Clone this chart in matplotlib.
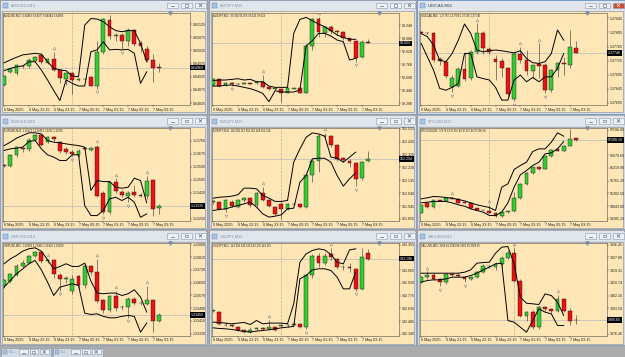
import matplotlib
matplotlib.use("Agg")
import matplotlib.pyplot as plt
import matplotlib.transforms as mtransforms
from matplotlib.patches import Rectangle
import numpy as np

plt.rcParams["font.family"] = ["Liberation Sans", "DejaVu Sans"]

# ---- data (M15 candles, open/high/low/close) ----
fx_time_labels = ["6 May 2025", "6 May 22:15", "6 May 23:15", "7 May 00:15",
                  "7 May 01:15", "7 May 02:15", "7 May 03:15"]
xau_time_labels = ["6 May 2025", "6 May 21:15", "6 May 22:15", "6 May 23:15",
                   "7 May 01:15", "7 May 02:15", "7 May 03:15"]
time_idx = [0, 4, 8, 12, 16, 20, 24]

audusd_ohlc = [
    (0.64895, 0.64932, 0.64890, 0.64928), (0.64945, 0.64960, 0.64940, 0.64955),
    (0.64938, 0.64975, 0.64930, 0.64968), (0.64966, 0.64970, 0.64960, 0.64964),
    (0.64966, 0.64995, 0.64960, 0.64989), (0.64985, 0.65005, 0.64980, 0.65000),
    (0.65009, 0.65015, 0.64975, 0.64980), (0.64978, 0.64995, 0.64975, 0.64992),
    (0.64992, 0.65020, 0.64948, 0.64951), (0.64951, 0.64955, 0.64900, 0.64920),
    (0.64918, 0.64945, 0.64895, 0.64938), (0.64938, 0.64945, 0.64860, 0.64912),
    (0.64912, 0.64920, 0.64910, 0.64917), (0.64918, 0.64920, 0.64912, 0.64915),
    (0.64925, 0.64928, 0.64890, 0.64891), (0.64891, 0.65060, 0.64880, 0.65020),
    (0.65020, 0.65148, 0.65010, 0.65143), (0.65140, 0.65160, 0.65070, 0.65078),
    (0.65078, 0.65090, 0.65060, 0.65082), (0.65085, 0.65090, 0.65030, 0.65062),
    (0.65062, 0.65110, 0.65040, 0.65103), (0.65103, 0.65108, 0.65040, 0.65050),
    (0.65052, 0.65060, 0.65020, 0.65040), (0.65030, 0.65040, 0.64980, 0.64990),
    (0.64990, 0.65010, 0.64905, 0.64960), (0.64963, 0.64977, 0.64944, 0.64960),
]
audusd_upper = [0.64978, 0.64989, 0.64999, 0.65008, 0.65011, 0.65014, 0.65011, 0.64982,
                0.64957, 0.64951, 0.64948, 0.64928, 0.64925, 0.65121, 0.65146, 0.65144,
                0.65134, 0.65115, 0.65100, 0.65096, 0.65100, 0.65100, 0.65052, 0.64982]
audusd_lower = [0.64948, 0.64957, 0.64963, 0.64966, 0.64982, 0.64982, 0.64951, 0.64913,
                0.64873, 0.64835, 0.64913, 0.64900, 0.64890, 0.64890, 0.65020, 0.65027,
                0.65058, 0.65027, 0.65029, 0.65027, 0.65029, 0.65014, 0.64900, 0.64944]
audusd_ticks = [0.64825, 0.64875, 0.64925, 0.64975, 0.65025, 0.65075, 0.65125]
audusd_range = (0.64818, 0.65168)
audusd_frac_up = [8, 17]
audusd_frac_dn = [15, 19]

audjpy_ohlc = [
    (92.514, 92.600, 92.500, 92.583), (92.583, 92.590, 92.495, 92.503),
    (92.514, 92.550, 92.500, 92.542), (92.540, 92.555, 92.505, 92.526),
    (92.522, 92.540, 92.510, 92.526), (92.530, 92.550, 92.520, 92.535),
    (92.538, 92.550, 92.520, 92.532), (92.534, 92.565, 92.525, 92.554),
    (92.554, 92.640, 92.480, 92.485), (92.490, 92.495, 92.450, 92.460),
    (92.467, 92.480, 92.455, 92.473), (92.460, 92.470, 92.300, 92.420),
    (92.420, 92.480, 92.415, 92.473), (92.470, 92.480, 92.460, 92.473),
    (92.473, 92.478, 92.415, 92.420), (92.420, 93.010, 92.410, 92.990),
    (92.990, 93.340, 92.940, 93.317), (93.317, 93.350, 93.100, 93.167),
    (93.154, 93.240, 93.100, 93.228), (93.228, 93.250, 93.140, 93.180),
    (93.180, 93.190, 93.120, 93.165), (93.167, 93.180, 93.060, 93.085),
    (93.085, 93.095, 93.040, 93.058), (93.056, 93.060, 92.800, 92.840),
    (92.852, 93.064, 92.840, 93.044), (93.038, 93.076, 93.023, 93.023),
]
audjpy_upper = [92.567, 92.575, 92.575, 92.583, 92.591, 92.575, 92.583, 92.554,
                92.554, 92.501, 92.485, 92.485, 92.485, 93.146, 93.317, 93.342,
                93.301, 93.260, 93.228, 93.179, 93.126, 93.097, 93.073, 93.073]
audjpy_lower = [92.501, 92.501, 92.510, 92.514, 92.501, 92.485, 92.469, 92.444,
                92.412, 92.310, 92.444, 92.428, 92.428, 92.428, 92.452, 92.991,
                93.056, 93.146, 93.146, 93.113, 93.064, 93.044, 92.820, 92.840]
audjpy_ticks = [92.288, 92.448, 92.608, 92.768, 92.928, 93.088, 93.248]
audjpy_range = (92.269, 93.399)
audjpy_frac_up = [8, 17]
audjpy_frac_dn = [3, 23]

usdcad_ohlc = [
    (1.37805, 1.37808, 1.37800, 1.37803), (1.37804, 1.37806, 1.37800, 1.37802),
    (1.37802, 1.37805, 1.37722, 1.37726), (1.37729, 1.37736, 1.37712, 1.37724),
    (1.37722, 1.37726, 1.37675, 1.37681), (1.37651, 1.37684, 1.37636, 1.37677),
    (1.37653, 1.37708, 1.37649, 1.37700), (1.37700, 1.37750, 1.37666, 1.37672),
    (1.37677, 1.37755, 1.37670, 1.37750), (1.37750, 1.37831, 1.37745, 1.37802),
    (1.37804, 1.37808, 1.37745, 1.37762), (1.37757, 1.37764, 1.37745, 1.37750),
    (1.37729, 1.37741, 1.37670, 1.37722), (1.37724, 1.37731, 1.37679, 1.37703),
    (1.37703, 1.37708, 1.37622, 1.37629), (1.37615, 1.37750, 1.37610, 1.37745),
    (1.37745, 1.37764, 1.37717, 1.37728), (1.37728, 1.37755, 1.37684, 1.37695),
    (1.37695, 1.37712, 1.37675, 1.37712), (1.37714, 1.37774, 1.37675, 1.37710),
    (1.37712, 1.37717, 1.37632, 1.37641), (1.37641, 1.37700, 1.37636, 1.37698),
    (1.37698, 1.37722, 1.37679, 1.37717), (1.37719, 1.37736, 1.37684, 1.37715),
    (1.37712, 1.37812, 1.37703, 1.37764), (1.37760, 1.37780, 1.37746, 1.37746),
]
usdcad_upper = [1.37802, 1.37793, 1.37769, 1.37726, 1.37722, 1.37745, 1.37783, 1.37829,
                1.37802, 1.37755, 1.37750, 1.37753, 1.37755, 1.37753, 1.37750, 1.37747,
                1.37753, 1.37731, 1.37719, 1.37717, 1.37722, 1.37745, 1.37812, 1.37783]
usdcad_lower = [1.37774, 1.37736, 1.37698, 1.37646, 1.37641, 1.37649, 1.37660, 1.37745,
                1.37745, 1.37679, 1.37674, 1.37670, 1.37649, 1.37613, 1.37613, 1.37670,
                1.37684, 1.37665, 1.37677, 1.37665, 1.37679, 1.37679, 1.37703, 1.37745]
usdcad_ticks = [1.37605, 1.37645, 1.37685, 1.37725, 1.37765, 1.37805, 1.37845]
usdcad_range = (1.37599, 1.37861)
usdcad_frac_up = [9, 16, 19]
usdcad_frac_dn = [5, 15, 20]

eurusd_ohlc = [
    (1.13597, 1.13605, 1.13590, 1.13595), (1.13597, 1.13675, 1.13590, 1.13667),
    (1.13667, 1.13725, 1.13650, 1.13717), (1.13708, 1.13717, 1.13688, 1.13706),
    (1.13706, 1.13775, 1.13695, 1.13766), (1.13766, 1.13805, 1.13760, 1.13797),
    (1.13797, 1.13805, 1.13725, 1.13732), (1.13753, 1.13790, 1.13745, 1.13782),
    (1.13782, 1.13790, 1.13760, 1.13771), (1.13749, 1.13760, 1.13680, 1.13695),
    (1.13706, 1.13715, 1.13670, 1.13688), (1.13688, 1.13700, 1.13660, 1.13671),
    (1.13667, 1.13705, 1.13650, 1.13695), (1.13710, 1.13715, 1.13700, 1.13706),
    (1.13699, 1.13715, 1.13695, 1.13710), (1.13717, 1.13730, 1.13390, 1.13402),
    (1.13420, 1.13430, 1.13280, 1.13294), (1.13294, 1.13500, 1.13280, 1.13493),
    (1.13489, 1.13515, 1.13420, 1.13435), (1.13428, 1.13440, 1.13390, 1.13407),
    (1.13402, 1.13430, 1.13360, 1.13420), (1.13424, 1.13470, 1.13395, 1.13407),
    (1.13404, 1.13420, 1.13390, 1.13402), (1.13402, 1.13530, 1.13380, 1.13500),
    (1.13506, 1.13510, 1.13270, 1.13316), (1.13322, 1.13346, 1.13282, 1.13335),
]
eurusd_upper = [1.13727, 1.13749, 1.13775, 1.13793, 1.13810, 1.13810, 1.13803, 1.13760,
                1.13749, 1.13745, 1.13738, 1.13732, 1.13727, 1.13717, 1.13435, 1.13500,
                1.13493, 1.13493, 1.13456, 1.13450, 1.13456, 1.13515, 1.13500, 1.13355]
eurusd_lower = [1.13695, 1.13706, 1.13710, 1.13717, 1.13753, 1.13760, 1.13706, 1.13667,
                1.13652, 1.13630, 1.13630, 1.13667, 1.13667, 1.13337, 1.13272, 1.13272,
                1.13305, 1.13381, 1.13391, 1.13370, 1.13391, 1.13359, 1.13261, 1.13283]
eurusd_ticks = [1.13250, 1.13335, 1.13420, 1.13505, 1.13590, 1.13675, 1.13760]
eurusd_range = (1.13240, 1.13840)
eurusd_frac_up = [15, 18, 23]
eurusd_frac_dn = [11, 16, 20]

eurjpy_ohlc = [
    (161.974, 161.990, 161.960, 161.980), (161.978, 161.985, 161.915, 161.924),
    (161.924, 161.995, 161.900, 161.986), (161.978, 161.990, 161.935, 161.944),
    (161.939, 161.998, 161.930, 161.986), (161.986, 162.010, 161.975, 162.003),
    (162.003, 162.010, 161.940, 161.949), (161.949, 162.050, 161.940, 162.042),
    (162.042, 162.085, 161.985, 161.993), (161.986, 161.995, 161.935, 161.944),
    (161.937, 161.945, 161.880, 161.888), (161.961, 161.975, 161.851, 161.924),
    (161.924, 161.970, 161.915, 161.961), (161.958, 161.970, 161.950, 161.961),
    (161.961, 161.965, 161.930, 161.937), (161.937, 162.190, 161.930, 162.175),
    (162.175, 162.295, 162.121, 162.281), (162.281, 162.480, 162.200, 162.466),
    (162.460, 162.488, 162.440, 162.466), (162.466, 162.470, 162.380, 162.397),
    (162.397, 162.400, 162.280, 162.294), (162.298, 162.305, 162.270, 162.286),
    (162.281, 162.290, 162.230, 162.262), (162.262, 162.270, 162.090, 162.146),
    (162.150, 162.280, 162.140, 162.269), (162.281, 162.352, 162.268, 162.294),
]
eurjpy_upper = [162.003, 162.010, 162.013, 162.018, 162.028, 162.077, 162.077, 162.072,
                162.023, 162.003, 161.979, 161.979, 161.986, 162.269, 162.367, 162.453,
                162.485, 162.478, 162.461, 162.306, 162.298, 162.269, 162.306, 162.343]
eurjpy_lower = [161.912, 161.919, 161.924, 161.937, 161.949, 161.961, 161.974, 161.937,
                161.887, 161.863, 161.870, 161.880, 161.924, 161.929, 162.121, 162.170,
                162.294, 162.298, 162.298, 162.269, 162.170, 162.092, 162.146, 162.190]
eurjpy_ticks = [161.850, 161.945, 162.040, 162.135, 162.230, 162.325, 162.420, 162.515]
eurjpy_range = (161.838, 162.520)
eurjpy_frac_up = [8, 18]
eurjpy_frac_dn = [2, 11, 23]

btcusd_ohlc = [
    (94602, 94900, 94580, 94889), (94961, 94970, 94790, 94805),
    (94805, 95060, 94790, 95045), (95045, 95060, 95020, 95040),
    (95040, 95140, 95020, 95130), (95120, 95180, 95090, 95110),
    (95105, 95120, 94940, 94961), (94985, 94990, 94940, 94961),
    (94961, 94970, 94750, 94769), (94769, 94790, 94690, 94710),
    (94710, 94720, 94670, 94690), (94650, 94900, 94590, 94600),
    (94602, 94620, 94460, 94480), (94480, 94640, 94460, 94626),
    (94626, 94660, 94610, 94650), (94650, 95350, 94640, 95130),
    (95130, 95660, 95110, 95644), (95644, 96060, 95620, 96039),
    (96039, 96260, 96000, 96243), (96243, 96260, 96150, 96183),
    (96183, 96660, 96160, 96638), (96638, 96900, 96600, 96878),
    (96901, 96920, 96820, 96841), (96841, 97040, 96820, 97021),
    (97021, 97600, 97000, 97261), (97278.69, 97302.40, 97200.88, 97208.10),
]
btcusd_upper = [95105, 95141, 95189, 95177, 95153, 95129, 95081, 95033,
                94961, 94889, 94841, 94793, 94686, 95524, 95644, 96159,
                96303, 96422, 96806, 96901, 96901, 97141, 97476, 97356]
btcusd_lower = [94961, 94985, 95009, 95009, 95009, 94961, 94889, 94841,
                94745, 94686, 94626, 94506, 94506, 94626, 94961, 95524,
                95967, 96123, 96303, 96422, 96722, 96758, 96901, 97165]
btcusd_ticks = [94385.10, 94843.80, 95302.50, 95761.20, 96219.90, 96678.60, 97137.30, 97596.00]
btcusd_range = (94326, 97644)
btcusd_frac_up = [5, 11]
btcusd_frac_dn = []

gbpusd_ohlc = [
    (1.33633, 1.33675, 1.33620, 1.33668), (1.33664, 1.33710, 1.33650, 1.33702),
    (1.33696, 1.33765, 1.33690, 1.33758), (1.33758, 1.33790, 1.33740, 1.33773),
    (1.33773, 1.33825, 1.33765, 1.33815), (1.33815, 1.33850, 1.33810, 1.33842),
    (1.33842, 1.33850, 1.33775, 1.33786), (1.33786, 1.33800, 1.33775, 1.33792),
    (1.33794, 1.33800, 1.33680, 1.33702), (1.33696, 1.33710, 1.33600, 1.33675),
    (1.33672, 1.33690, 1.33650, 1.33678), (1.33597, 1.33700, 1.33580, 1.33675),
    (1.33690, 1.33700, 1.33620, 1.33633), (1.33633, 1.33765, 1.33620, 1.33752),
    (1.33752, 1.33760, 1.33700, 1.33717), (1.33717, 1.33800, 1.33520, 1.33535),
    (1.33543, 1.33550, 1.33460, 1.33480), (1.33480, 1.33575, 1.33465, 1.33564),
    (1.33564, 1.33600, 1.33470, 1.33493), (1.33499, 1.33510, 1.33480, 1.33495),
    (1.33497, 1.33560, 1.33430, 1.33549), (1.33549, 1.33560, 1.33510, 1.33522),
    (1.33520, 1.33535, 1.33510, 1.33525), (1.33518, 1.33630, 1.33510, 1.33543),
    (1.33543, 1.33550, 1.33340, 1.33413), (1.33408, 1.33462, 1.33402, 1.33450),
]
gbpusd_upper = [1.33769, 1.33800, 1.33821, 1.33848, 1.33863, 1.33869, 1.33848, 1.33794,
                1.33737, 1.33752, 1.33769, 1.33752, 1.33752, 1.33773, 1.33660, 1.33585,
                1.33581, 1.33585, 1.33585, 1.33570, 1.33581, 1.33606, 1.33560, 1.33466]
gbpusd_lower = [1.33622, 1.33664, 1.33706, 1.33737, 1.33769, 1.33790, 1.33731, 1.33654,
                1.33570, 1.33622, 1.33633, 1.33643, 1.33633, 1.33459, 1.33451, 1.33455,
                1.33439, 1.33430, 1.33430, 1.33439, 1.33445, 1.33439, 1.33340, 1.33397]
gbpusd_ticks = [1.33330, 1.33410, 1.33490, 1.33570, 1.33650, 1.33730, 1.33810, 1.33890]
gbpusd_range = (1.33319, 1.33898)
gbpusd_frac_up = [7, 15, 18, 23]
gbpusd_frac_dn = [9, 20]

usdjpy_ohlc = [
    (142.600, 142.615, 142.590, 142.605), (142.586, 142.595, 142.445, 142.454),
    (142.446, 142.470, 142.425, 142.435), (142.440, 142.450, 142.420, 142.432),
    (142.416, 142.430, 142.370, 142.378), (142.378, 142.395, 142.350, 142.359),
    (142.359, 142.420, 142.350, 142.389), (142.390, 142.420, 142.380, 142.408),
    (142.408, 142.420, 142.380, 142.390), (142.397, 142.500, 142.385, 142.416),
    (142.416, 142.425, 142.375, 142.386), (142.432, 142.450, 142.420, 142.435),
    (142.435, 142.455, 142.420, 142.440), (142.445, 142.490, 142.440, 142.447),
    (142.454, 142.460, 142.410, 142.416), (142.416, 143.020, 142.390, 143.003),
    (143.003, 143.245, 142.980, 143.230), (143.230, 143.255, 143.100, 143.146),
    (143.146, 143.260, 143.120, 143.230), (143.242, 143.320, 143.180, 143.211),
    (143.192, 143.200, 143.080, 143.105), (143.105, 143.120, 143.070, 143.098),
    (143.105, 143.150, 143.040, 143.090), (143.079, 143.085, 142.830, 142.851),
    (142.851, 143.310, 142.840, 143.211), (143.259, 143.306, 143.178, 143.196),
]
usdjpy_upper = [142.473, 142.469, 142.462, 142.454, 142.462, 142.469, 142.446, 142.492,
                142.454, 142.462, 142.462, 142.462, 142.454, 142.681, 143.154, 143.249,
                143.287, 143.306, 143.294, 143.241, 143.154, 143.135, 143.294, 143.306]
usdjpy_lower = [142.408, 142.401, 142.397, 142.390, 142.378, 142.367, 142.359, 142.371,
                142.378, 142.386, 142.397, 142.408, 142.416, 142.424, 142.965, 143.003,
                143.067, 143.079, 143.079, 143.060, 142.984, 142.851, 142.851, 143.041]
usdjpy_ticks = [142.340, 142.485, 142.630, 142.775, 142.920, 143.065, 143.210, 143.355]
usdjpy_range = (142.321, 143.370)
usdjpy_frac_up = [9, 19]
usdjpy_frac_dn = [15, 23]

xauusd_ohlc = [
    (3411.15, 3415.50, 3410.50, 3414.51), (3414.51, 3418.50, 3413.00, 3416.30),
    (3416.30, 3417.00, 3412.50, 3413.39), (3413.39, 3414.00, 3408.50, 3411.15),
    (3411.15, 3417.50, 3410.00, 3416.75), (3416.75, 3417.50, 3415.50, 3416.30),
    (3416.30, 3417.00, 3414.50, 3415.63), (3414.95, 3415.50, 3411.00, 3413.39),
    (3413.39, 3415.50, 3412.50, 3414.95), (3414.95, 3418.50, 3414.00, 3417.87),
    (3417.87, 3423.50, 3417.00, 3422.34), (3422.34, 3423.00, 3421.00, 3421.70),
    (3421.22, 3424.50, 3419.50, 3423.46), (3423.46, 3429.00, 3421.50, 3427.49),
    (3427.49, 3433.00, 3426.50, 3430.62), (3430.62, 3434.00, 3411.50, 3412.27),
    (3412.27, 3413.00, 3387.50, 3388.76), (3388.31, 3392.00, 3385.00, 3391.00),
    (3391.00, 3392.50, 3380.00, 3380.92), (3380.92, 3395.00, 3379.50, 3394.36),
    (3394.36, 3395.20, 3391.50, 3393.00), (3393.00, 3393.50, 3390.50, 3392.00),
    (3392.12, 3402.50, 3391.00, 3399.95), (3399.95, 3400.50, 3391.00, 3392.12),
    (3392.12, 3394.00, 3382.50, 3384.95), (3385.81, 3388.88, 3382.99, 3385.65),
]
xauusd_upper = [3417.20, 3417.20, 3417.20, 3417.20, 3417.20, 3417.20, 3417.20, 3417.87,
                3419.43, 3423.91, 3424.36, 3424.58, 3430.63, 3434.66, 3435.11, 3423.46,
                3401.07, 3397.04, 3396.60, 3396.15, 3403.31, 3402.19, 3397.72, 3388.76]
xauusd_lower = [3411.15, 3412.27, 3412.72, 3412.72, 3413.39, 3414.51, 3414.51, 3414.51,
                3415.63, 3417.20, 3419.43, 3421.22, 3423.46, 3423.91, 3385.40, 3384.28,
                3380.92, 3377.56, 3385.40, 3393.24, 3391.00, 3389.88, 3382.04, 3382.04]
xauusd_ticks = [3376.45, 3385.02, 3393.59, 3402.16, 3410.74, 3419.31, 3427.88, 3436.45]
xauusd_range = (3375.33, 3437.35)
xauusd_frac_up = [1, 15, 22]
xauusd_frac_dn = [3, 7]

# grid order of the chart windows: (symbol, digits, candles, upper, lower, ticks, range,
# fractals up, fractals down, time labels, period separator bar)
charts = [
    [("AUDUSD", 5, audusd_ohlc, audusd_upper, audusd_lower, audusd_ticks, audusd_range,
      audusd_frac_up, audusd_frac_dn, fx_time_labels, 11),
     ("AUDJPY", 3, audjpy_ohlc, audjpy_upper, audjpy_lower, audjpy_ticks, audjpy_range,
      audjpy_frac_up, audjpy_frac_dn, fx_time_labels, 11),
     ("USDCAD", 5, usdcad_ohlc, usdcad_upper, usdcad_lower, usdcad_ticks, usdcad_range,
      usdcad_frac_up, usdcad_frac_dn, fx_time_labels, 11)],
    [("EURUSD", 5, eurusd_ohlc, eurusd_upper, eurusd_lower, eurusd_ticks, eurusd_range,
      eurusd_frac_up, eurusd_frac_dn, fx_time_labels, 11),
     ("EURJPY", 3, eurjpy_ohlc, eurjpy_upper, eurjpy_lower, eurjpy_ticks, eurjpy_range,
      eurjpy_frac_up, eurjpy_frac_dn, fx_time_labels, 11),
     ("BTCUSD", 2, btcusd_ohlc, btcusd_upper, btcusd_lower, btcusd_ticks, btcusd_range,
      btcusd_frac_up, btcusd_frac_dn, fx_time_labels, 11)],
    [("GBPUSD", 5, gbpusd_ohlc, gbpusd_upper, gbpusd_lower, gbpusd_ticks, gbpusd_range,
      gbpusd_frac_up, gbpusd_frac_dn, fx_time_labels, 11),
     ("USDJPY", 3, usdjpy_ohlc, usdjpy_upper, usdjpy_lower, usdjpy_ticks, usdjpy_range,
      usdjpy_frac_up, usdjpy_frac_dn, fx_time_labels, 11),
     ("XAUUSD", 2, xauusd_ohlc, xauusd_upper, xauusd_lower, xauusd_ticks, xauusd_range,
      xauusd_frac_up, xauusd_frac_dn, xau_time_labels, 15)],
]
active_window = "USDCAD"

# ---- look ----
W, H = 625, 357
MDI = "#ABABAB"
FRAME = "#D4DAE3"
FRAME_EDGE = "#8D99AB"
CREAM = "#FFE6B6"
BULL = "#33CC33"
BEAR = "#EE1111"

col_x = [0, 209, 417]
col_w = [207, 207, 208]
row_y = [0, 115.5, 230.5]
row_h = [113.5, 113.5, 114.5]


def buttons(bg, bx, by, close_red=False, bw=11, bh=5.5, gap=14):
    for k in range(3):
        x = bx + k * gap
        fc = "#CC4A36" if (close_red and k == 2) else "#EEF1F5"
        bg.add_patch(Rectangle((x, by), bw, bh, fc=fc, ec=FRAME_EDGE, lw=0.4))
        cx, cy = x + bw / 2, by + bh / 2
        gc = "white" if (close_red and k == 2) else "#5A6678"
        if k == 0:
            bg.plot([cx - 1.5, cx + 1.5], [cy + 1, cy + 1], color=gc, lw=0.5)
        elif k == 1:
            bg.add_patch(Rectangle((cx - 1.5, cy - 1.2), 3, 2.4, fc="none", ec=gc, lw=0.4))
        else:
            bg.plot([cx - 1.3, cx + 1.3], [cy - 1.3, cy + 1.3], color=gc, lw=0.5)
            bg.plot([cx - 1.3, cx + 1.3], [cy + 1.3, cy - 1.3], color=gc, lw=0.5)


def draw_window(bg, x0, y0, w, h, title, active):
    bg.add_patch(Rectangle((x0, y0), w, h, fc=FRAME,
                           ec="#6C97C9" if active else FRAME_EDGE, lw=0.6))
    bg.add_patch(Rectangle((x0 + 0.6, y0 + 0.6), w - 1.2, 10.2, fc="#E1E6ED", ec="none"))
    bg.add_patch(Rectangle((x0 + 3, y0 + 3), 5, 5, fc="#A9C3E2", ec="#5D80AD", lw=0.3))
    bg.text(x0 + 11, y0 + 5.8, title, fontsize=2.8, va="center", ha="left",
            color="#2F3C52" if active else "#8894A6")
    buttons(bg, x0 + w - 40, y0 + 2.6, close_red=active)
    bg.add_patch(Rectangle((x0 + 2, y0 + 11), w - 4, h - 12.5, fc=CREAM,
                           ec="#7C889A", lw=0.4))


def draw_chart(fig, x0, y0, spec):
    (sym, digits, ohlc, upper, lower, ticks, yrange, frac_up, frac_dn,
     tlabels, sep) = spec
    left, top, pw, ph = x0 + 3, y0 + 12.7, 187, 92.3
    ax = fig.add_axes([left / W, 1 - (top + ph) / H, pw / W, ph / H])
    ax.set_facecolor(CREAM)

    arr = np.array(ohlc, dtype=float)
    o, hi, lo, c = arr[:, 0], arr[:, 1], arr[:, 2], arr[:, 3]
    idx = np.arange(len(arr))
    span = yrange[1] - yrange[0]

    ax.axvline(sep, color="#6E6E6E", lw=0.4, ls=(0, (1, 1.5)), zorder=1)
    ax.axhline(c[-1], color="#B9B9B9", lw=0.5, zorder=1)

    ax.vlines(idx, lo, hi, color="#2A2A2A", lw=0.4, zorder=2)
    bottoms = np.minimum(o, c)
    heights = np.maximum(np.abs(c - o), span * 0.006)
    colors = np.where(c >= o, BULL, BEAR)
    ax.bar(idx, heights, width=0.62, bottom=bottoms, color=colors,
           edgecolor="#1A1A1A", linewidth=0.3, zorder=3)

    ax.plot(np.arange(len(upper)), upper, color="black", lw=0.7, zorder=4)
    ax.plot(np.arange(len(lower)), lower, color="black", lw=0.7, zorder=4)

    if frac_up:
        ax.plot(frac_up, hi[frac_up] + span * 0.04, ls="none", marker="^", ms=2.0,
                mfc="none", mec="#8C8C8C", mew=0.35, zorder=4)
    if frac_dn:
        ax.plot(frac_dn, lo[frac_dn] - span * 0.04, ls="none", marker="v", ms=2.0,
                mfc="none", mec="#8C8C8C", mew=0.35, zorder=4)

    ax.set_xlim(-0.18, 29.98)
    ax.set_ylim(*yrange)

    # shift marker at the top edge
    ax.plot([26.8], [yrange[1]], marker="v", ms=2.3, color="#7B8FA8",
            clip_on=False, zorder=6)

    last = arr[-1]
    header = f"{sym},M15  " + " ".join(f"{v:.{digits}f}" for v in last)
    ax.text(0.006, 1 - 2.4 / ph, header, transform=ax.transAxes, fontsize=1.9,
            va="center", ha="left", color="#1E1E1E", zorder=6)

    ax.set_xticks(time_idx)
    ax.set_xticklabels(tlabels, ha="left")
    ax.yaxis.tick_right()
    ax.set_yticks(ticks)
    # the bid price box covers the price label that sits under it
    ax.set_yticklabels(["" if abs(t - c[-1]) < span * 0.042 else f"{t:.{digits}f}"
                        for t in ticks])
    ax.tick_params(axis="x", direction="out", length=1.4, width=0.3, pad=0.6,
                   labelsize=2.7, colors="#222222")
    ax.tick_params(axis="y", direction="out", length=1.4, width=0.3, pad=0.8,
                   labelsize=2.6, colors="#222222")
    for s in ax.spines.values():
        s.set_color("#505050")
        s.set_linewidth(0.4)

    trans = mtransforms.blended_transform_factory(ax.transAxes, ax.transData)
    ax.text(1.004, c[-1], f"{c[-1]:.{digits}f}", transform=trans, fontsize=2.6,
            color="white", va="center", ha="left", clip_on=False, zorder=10,
            bbox=dict(boxstyle="square,pad=0.25", fc="black", ec="none"))


fig = plt.figure(figsize=(6.25, 3.57), dpi=100)
fig.patch.set_facecolor(MDI)
bg = fig.add_axes([0, 0, 1, 1])
bg.set_xlim(0, W)
bg.set_ylim(H, 0)
bg.axis("off")

for r in range(3):
    for k in range(3):
        spec = charts[r][k]
        draw_window(bg, col_x[k], row_y[r], col_w[k], row_h[r], f"{spec[0]},M15",
                    spec[0] == active_window)
        draw_chart(fig, col_x[k], row_y[r], spec)

# minimized windows at the bottom of the workspace
for tx in [1, 53]:
    bg.add_patch(Rectangle((tx, 347.5), 50, 11, fc=FRAME, ec=FRAME_EDGE, lw=0.5))
    bg.add_patch(Rectangle((tx + 2, 349.5), 4, 4, fc="#A9C3E2", ec="#5D80AD", lw=0.3))
    bg.text(tx + 8, 352, "EU...", fontsize=2.6, va="center", color="#8894A6")
    buttons(bg, tx + 18, 349.3, bw=8.5, bh=5, gap=10.5)

fig.savefig("out.png", dpi=100, facecolor=MDI)
